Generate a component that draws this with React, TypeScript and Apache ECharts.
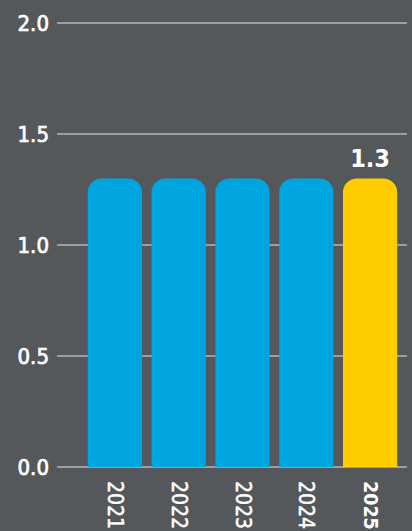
import React, { useEffect, useRef } from "react";
import * as echarts from "echarts";

const categories = ["2021", "2022", "2023", "2024", "2025"];
const values = [1.3, 1.3, 1.3, 1.3, 1.3];
const highlightIndex = 4;
const yMin = 0;
const yMax = 2;
const yInterval = 0.5;

const BG = "#55585b";
const BLUE = "#00a5df";
const YELLOW = "#ffcd00";
const FONT = "'DejaVu Sans Condensed', 'DejaVu Sans', sans-serif";

export default function App() {
  const ref = useRef<HTMLDivElement>(null);
  useEffect(() => {
    if (!ref.current) return;
    const chart = echarts.init(ref.current, undefined, { renderer: "svg" });
    chart.setOption({
      animation: false,
      backgroundColor: BG,
      grid: [
        { left: 83, right: 10, top: 23, bottom: 64, outerBoundsMode: "none", containLabel: false },
        { left: 57, right: 5, top: 23, bottom: 64, outerBoundsMode: "none", containLabel: false },
      ],
      xAxis: [
        {
          type: "category",
          gridIndex: 0,
          data: categories,
          axisLine: { show: false },
          axisTick: { show: false },
          axisLabel: {
            rotate: -90,
            margin: 14,
            color: "#ffffff",
            fontFamily: FONT,
            fontSize: 21,
            formatter: (v: string, i: number) =>
              i === highlightIndex ? `{b|${v}}` : `{n|${v}}`,
            rich: {
              n: {
                color: "#ffffff",
                fontFamily: FONT,
                fontSize: 21,
                fontWeight: "normal",
                textBorderColor: "#ffffff",
                textBorderWidth: 0.5,
              },
              b: { color: "#ffffff", fontFamily: FONT, fontSize: 19.5, fontWeight: "bold" },
            },
          },
        },
        {
          type: "category",
          gridIndex: 1,
          data: categories,
          show: false,
        },
      ],
      yAxis: [
        {
          type: "value",
          gridIndex: 0,
          min: yMin,
          max: yMax,
          interval: yInterval,
          show: false,
        },
        {
          type: "value",
          gridIndex: 1,
          min: yMin,
          max: yMax,
          interval: yInterval,
          axisLine: { show: false },
          axisTick: { show: false },
          splitLine: { show: true, lineStyle: { color: "#b4b6b8", width: 1.5 } },
          axisLabel: {
            margin: 8,
            color: "#ffffff",
            fontFamily: FONT,
            fontSize: 22,
            fontWeight: "normal",
            textBorderColor: "#ffffff",
            textBorderWidth: 0.7,
            formatter: (v: number) => v.toFixed(1),
          },
        },
      ],
      series: [
        {
          type: "bar",
          xAxisIndex: 0,
          yAxisIndex: 0,
          barCategoryGap: "15%",
          z: 3,
          data: values.map((v, i) => ({
            value: v,
            itemStyle: {
              color: i === highlightIndex ? YELLOW : BLUE,
              borderRadius: [14, 14, 0, 0],
            },
            label: {
              show: i === highlightIndex,
              position: "top",
              distance: 7,
              color: "#ffffff",
              fontFamily: FONT,
              fontSize: 25,
              fontWeight: "bold",
              formatter: (p: any) => p.value.toFixed(1),
            },
          })),
        },
      ],
    });
    return () => chart.dispose();
  }, []);
  return (
    <div
      ref={ref}
      style={{ position: "fixed", left: 0, top: 0, width: 412, height: 531 }}
    />
  );
}
